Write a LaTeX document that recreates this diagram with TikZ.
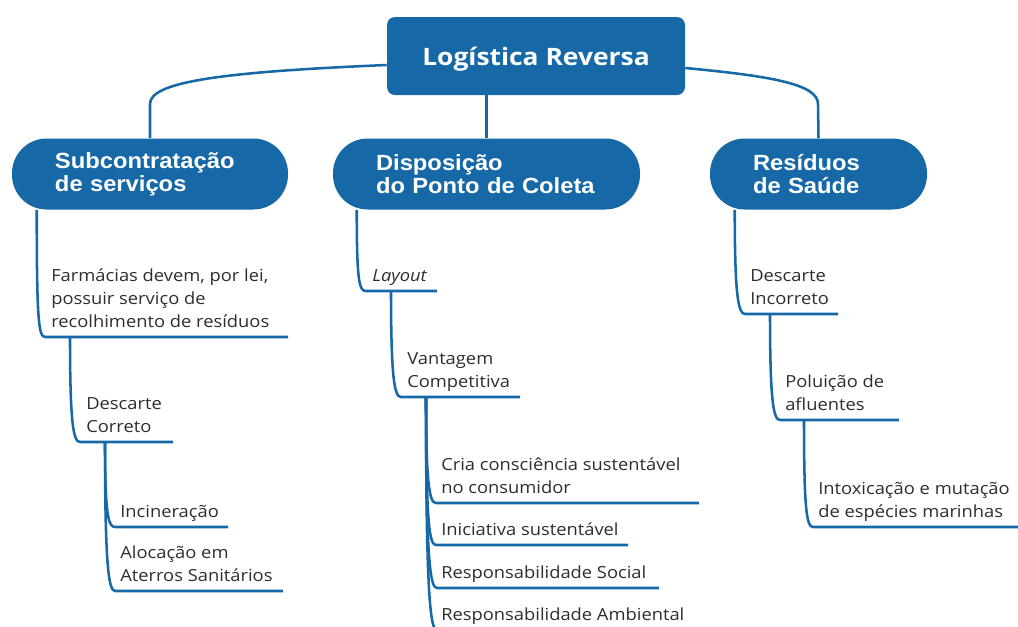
\documentclass[tikz,border=0pt]{standalone}
\usepackage{fontspec}
\setmainfont{Open Sans}[FakeStretch=1.1]
\newfontfamily\pillfont{Liberation Sans}[FakeStretch=1.08]
\usetikzlibrary{calc}
\definecolor{mmblue}{RGB}{22,104,166}
\definecolor{txt}{RGB}{45,45,45}
\begin{document}
\begin{tikzpicture}[x=0.75pt,y=-0.75pt,
  conn/.style={draw=mmblue,line width=1.9pt,line join=round},
  curv/.style={out=-90,in=180,out distance=#1,in distance=5pt},
  pill/.style={fill=mmblue,rounded corners=26pt,text=white,font=\pillfont\bfseries\fontsize{16.5}{17.5}\selectfont,align=left,inner xsep=32.25pt,inner ysep=0pt,minimum height=53.25pt},
  leaf/.style={anchor=south west,inner sep=0pt,align=left,text=txt,font=\fontsize{12.5}{17.25}\selectfont},
  rootbox/.style={fill=mmblue,rounded corners=6pt,text=white,font=\bfseries\fontsize{18}{20}\selectfont,minimum width=223.5pt,minimum height=58.5pt,text height=14pt,text depth=0pt}]
\useasboundingbox (0,0) rectangle (1018,626);
\clip (0,0) rectangle (1018,626);

% root and main branches
\node[rootbox] (root) at (536,56) {Logística Reversa};
\node[pill,text width=142.5pt] (sub) at (150,174) {Subcontratação\\de serviços};
\node[pill,text width=165.75pt] (disp) at (486.5,174) {Disposição\\do Ponto de Coleta};
\node[pill,text width=98.25pt] (res) at (818.5,174) {Resíduos\\de Saúde};

\draw[conn] ($(root.west)+(0,9)$) .. controls (220,72) and (150,82) .. (150,104) -- (sub.north);
\draw[conn] (disp.north |- root.south) -- (disp.north);
\draw[conn] ($(root.east)+(0,12)$) .. controls (770,76) and (818,84) .. (818,104) -- (res.north);

% left branch
\coordinate (a0) at ($(sub.south west)+(25,0)$);
\coordinate (a1) at (45,337);   \coordinate (a1e) at (288,337);
\node[leaf] (farm) at (51,335) {Farmácias devem, por lei,\\possuir serviço de\\recolhimento de resíduos\strut};
\draw[conn] (a0) to[curv=80pt] (a1) -- (a1e);

\coordinate (b0) at (70,337);
\coordinate (b1) at (80,442);   \coordinate (b1e) at (173,442);
\node[leaf] (desc) at (86,440) {Descarte\\Correto\strut};
\draw[conn] (b0) to[curv=65pt] (b1) -- (b1e);

\coordinate (c0) at (105,442);
\coordinate (c1) at (115,527);  \coordinate (c1e) at (228,527);
\node[leaf] (inc) at (120,525) {Incineração\strut};
\draw[conn] (c0) to[curv=55pt] (c1) -- (c1e);
\coordinate (c2) at (115,591);  \coordinate (c2e) at (283,591);
\node[leaf] (aloc) at (120,589) {Alocação em\\Aterros Sanitários\strut};
\draw[conn] (c0) to[curv=90pt] (c2) -- (c2e);

% middle branch
\coordinate (m0) at ($(disp.south west)+(24,0)$);
\coordinate (m1) at (366,291);  \coordinate (m1e) at (437,291);
\node[leaf] (lay) at (372,289) {\itshape Layout\strut};
\draw[conn] (m0) to[curv=55pt] (m1) -- (m1e);

\coordinate (n0) at (391,291);
\coordinate (n1) at (401,397);  \coordinate (n1e) at (520,397);
\node[leaf] (vant) at (407,395) {Vantagem\\Competitiva\strut};
\draw[conn] (n0) to[curv=65pt] (n1) -- (n1e);

\coordinate (o0) at (426,397);
\coordinate (o1) at (436,503);  \coordinate (o1e) at (699,503);
\node[leaf] (cria) at (441,501) {Cria consciência sustentável\\no consumidor\strut};
\draw[conn] (o0) to[curv=65pt] (o1) -- (o1e);
\coordinate (o2) at (436,545);  \coordinate (o2e) at (628,545);
\node[leaf] (inic) at (441,543) {Iniciativa sustentável\strut};
\draw[conn] (o0) to[curv=95pt] (o2) -- (o2e);
\coordinate (o3) at (437,588);  \coordinate (o3e) at (659,588);
\node[leaf] (soc) at (441,586) {Responsabilidade Social\strut};
\draw[conn] (o0) to[curv=125pt] (o3) -- (o3e);
\coordinate (o4) at (437,630);  \coordinate (o4e) at (710,630);
\node[leaf] (amb) at (441,628) {Responsabilidade Ambiental\strut};
\draw[conn] (o0) to[curv=150pt] (o4) -- (o4e);

% right branch
\coordinate (r0) at ($(res.south west)+(25,0)$);
\coordinate (r1) at (745,314);  \coordinate (r1e) at (838,314);
\node[leaf] (dinc) at (750,312) {Descarte\\Incorreto\strut};
\draw[conn] (r0) to[curv=65pt] (r1) -- (r1e);

\coordinate (s0) at (770,314);
\coordinate (s1) at (780,420);  \coordinate (s1e) at (899,420);
\node[leaf] (pol) at (785,418) {Poluição de\\afluentes\strut};
\draw[conn] (s0) to[curv=65pt] (s1) -- (s1e);

\coordinate (t0) at (804,420);
\coordinate (t1) at (813,527);  \coordinate (t1e) at (1018,527);
\node[leaf] (intox) at (818,525) {Intoxicação e mutação\\de espécies marinhas\strut};
\draw[conn] (t0) to[curv=65pt] (t1) -- (t1e);
\end{tikzpicture}
\end{document}
